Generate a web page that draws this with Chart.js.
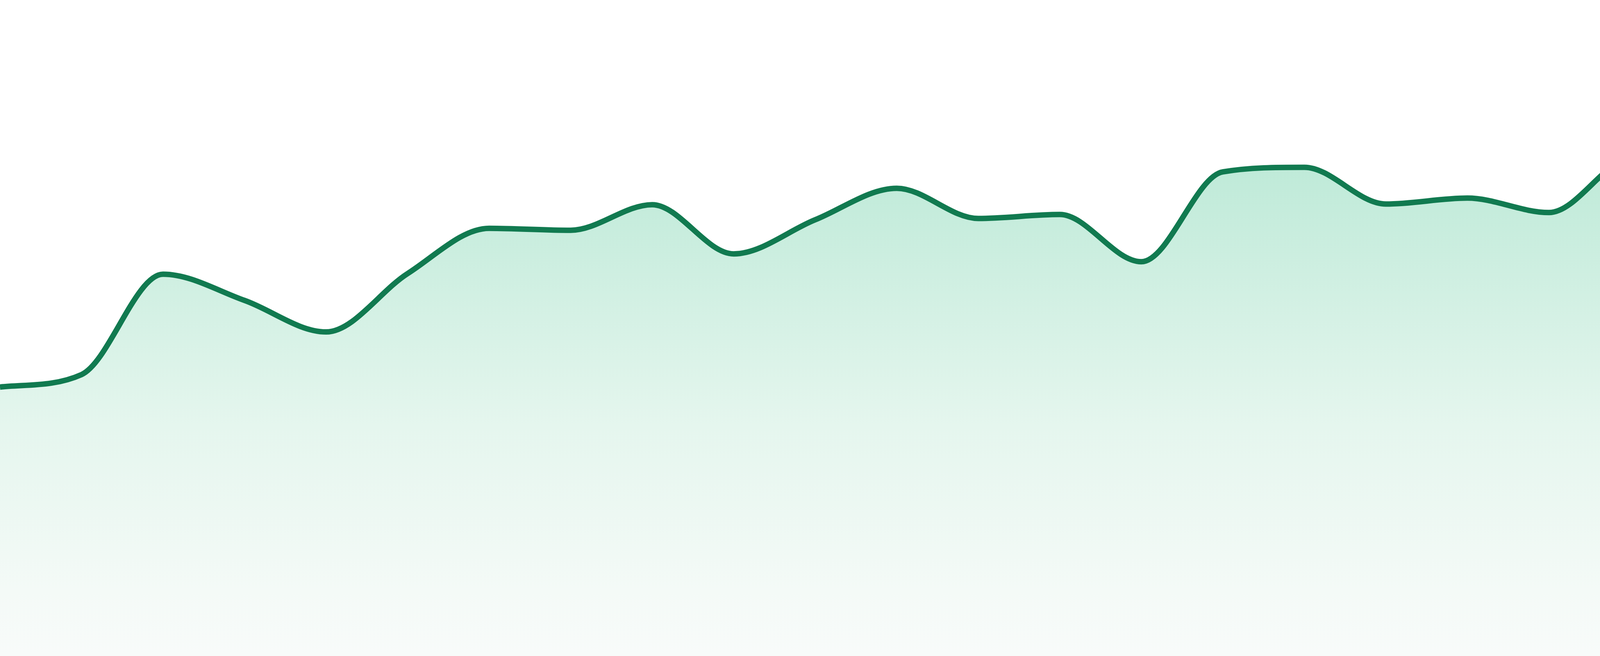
<!DOCTYPE html>
<html>
<head>
<meta charset="utf-8">
<script src="https://cdn.jsdelivr.net/npm/chart.js@4/dist/chart.umd.min.js"></script>
<style>
  html, body { margin: 0; padding: 0; background: #fff; }
  #wrap { width: 4800px; height: 1680px; position: relative; }
</style>
</head>
<body>
<div id="wrap"><canvas id="spark"></canvas></div>
<script>
const labels = ['1','2','3','4','5','6','7','8','9','10','11','12',
                '13','14','15','16','17','18','19','20','21','22','23','24']
const values = [41.0, 42.9, 58.2, 54.2, 49.4, 58.3, 65.2, 64.9, 68.8, 61.3, 66.5, 71.3,
                66.7, 67.3, 60.1, 73.8, 74.5, 68.9, 69.8, 67.6, 76.0, 77.0, 86.4, 88.0]
const yMin = 0
const yMax = 100

const lineColor = '#117a50'

const fillGradient = function (ctx, area) {
    const g = ctx.createLinearGradient(0, area.top, 0, area.bottom)
    g.addColorStop(0, 'rgb(170,227,205)')
    g.addColorStop(0.12, 'rgb(178,230,209)')
    g.addColorStop(0.65, 'rgb(229,246,238)')
    g.addColorStop(0.9, 'rgb(244,250,247)')
    g.addColorStop(1, 'rgb(248,251,250)')
    return g
}

var ctx = document.getElementById('spark').getContext('2d')

new Chart(ctx, {
    type: 'line',
    data: {
        labels: labels,
        datasets: [{
            data: values,
            borderColor: lineColor,
            borderWidth: 14,
            cubicInterpolationMode: 'monotone',
            pointRadius: 0,
            fill: 'start',
            backgroundColor: function (c) {
                const area = c.chart.chartArea
                if (!area) return 'rgba(178,230,209,0.5)'
                return fillGradient(c.chart.ctx, area)
            }
        }]
    },
    options: {
        responsive: true,
        maintainAspectRatio: false,
        animation: false,
        layout: { padding: 0 },
        scales: {
            x: { display: false },
            y: { display: false, min: yMin, max: yMax }
        },
        plugins: {
            legend: { display: false },
            tooltip: { enabled: false }
        }
    }
})
</script>
</body>
</html>
